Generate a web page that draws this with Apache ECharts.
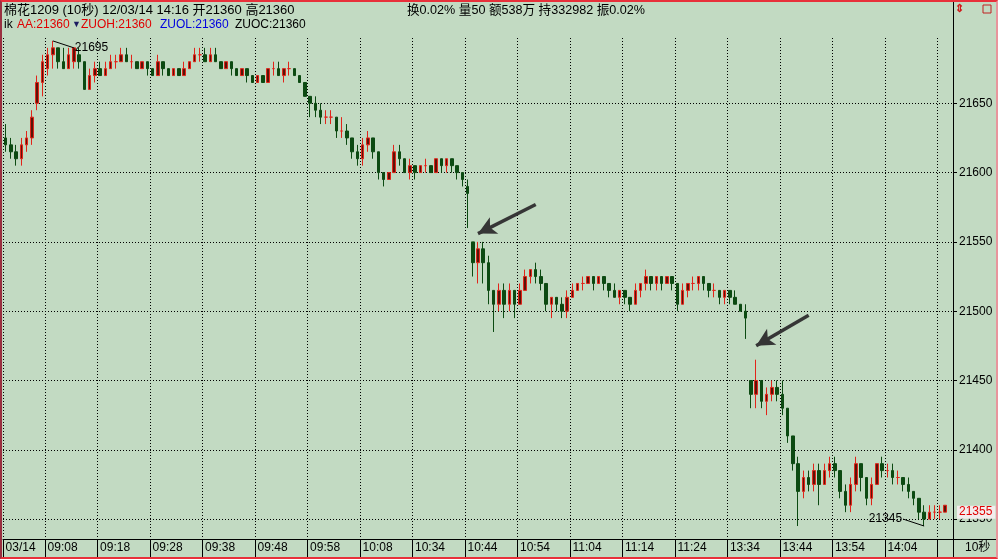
<!DOCTYPE html>
<html><head><meta charset="utf-8">
<script src="https://cdn.jsdelivr.net/npm/echarts@6.0.0/dist/echarts.min.js"></script>
<style>
html,body{margin:0;padding:0;background:#C2DAC2;}
#wrap{position:relative;width:998px;height:559px;overflow:hidden;background:#C2DAC2;}
#chart{position:absolute;left:0;top:0;width:998px;height:559px;}
#frame{position:absolute;left:0;top:0;width:998px;height:559px;box-sizing:border-box;border-top:2px solid #E8303A;border-bottom:2px solid #E8303A;border-left:2px solid #9A3040;border-right:2px solid #E8959C;pointer-events:none;}
</style></head>
<body><div id="wrap"><div id="chart"></div><div id="frame"></div></div>
<script>
// ---- data (10-second bars, resampled ~5px per bar) ----
const opens = [
21625,21620,21615,21610,21620,21625,21650,21665,21675,21685,
21690,21680,21675,21680,21685,21680,21660,21670,21675,21670,
21675,21680,21680,21685,21680,21680,21675,21680,21675,21670,
21680,21675,21670,21675,21670,21675,21680,21685,21685,21680,
21685,21680,21675,21680,21675,21670,21675,21670,21665,21670,
21665,21675,21675,21670,21675,21675,21670,21665,21655,21650,
21645,21640,21640,21640,21630,21630,21625,21615,21610,21620,
21625,21615,21600,21595,21600,21615,21610,21600,21605,21600,
21605,21605,21600,21610,21605,21610,21605,21600,21590,21550,
21535,21545,21535,21515,21505,21515,21505,21515,21505,21515,
21525,21530,21525,21520,21505,21510,21505,21500,21510,21515,
21520,21520,21525,21520,21525,21520,21515,21510,21515,21510,
21505,21515,21520,21525,21520,21525,21520,21525,21520,21505,
21515,21520,21520,21525,21520,21515,21515,21510,21515,21510,
21505,21500,21450,21440,21450,21435,21440,21445,21440,21430,
21410,21390,21370,21380,21375,21385,21375,21385,21390,21385,
21370,21360,21375,21390,21380,21365,21375,21390,21385,21385,
21380,21380,21375,21370,21365,21355,21350,21355,21355,21355];
const closes = [
21620,21615,21610,21620,21625,21640,21665,21680,21685,21690,
21680,21675,21685,21690,21680,21660,21670,21675,21670,21675,
21680,21680,21685,21680,21680,21675,21680,21675,21670,21680,
21675,21670,21675,21670,21675,21680,21685,21685,21680,21685,
21680,21675,21680,21675,21670,21675,21670,21665,21670,21665,
21675,21675,21670,21675,21675,21670,21665,21655,21650,21645,
21640,21640,21640,21630,21630,21625,21615,21610,21620,21625,
21615,21600,21595,21600,21615,21610,21600,21605,21600,21605,
21605,21600,21610,21605,21610,21605,21600,21595,21585,21535,
21545,21535,21515,21505,21515,21505,21515,21505,21515,21525,
21530,21525,21520,21505,21510,21505,21500,21510,21515,21520,
21520,21525,21520,21525,21520,21515,21510,21515,21510,21505,
21515,21520,21525,21520,21525,21520,21525,21520,21505,21515,
21520,21520,21525,21520,21515,21515,21510,21515,21510,21505,
21500,21495,21440,21450,21435,21440,21445,21440,21430,21410,
21390,21370,21380,21375,21385,21375,21385,21390,21385,21370,
21360,21375,21390,21380,21365,21375,21390,21385,21385,21380,
21380,21375,21370,21365,21355,21350,21355,21355,21355,21360];
const highs = [
21635,21625,21620,21625,21630,21645,21670,21685,21690,21695,
21690,21690,21690,21690,21690,21680,21675,21680,21680,21680,
21685,21685,21690,21690,21685,21680,21680,21680,21675,21685,
21680,21675,21675,21675,21680,21680,21690,21690,21690,21690,
21690,21680,21680,21680,21675,21675,21675,21670,21670,21670,
21675,21680,21680,21675,21680,21675,21670,21665,21655,21655,
21650,21645,21645,21640,21640,21635,21625,21620,21625,21630,
21625,21615,21600,21600,21620,21620,21610,21610,21605,21605,
21610,21605,21610,21610,21610,21610,21605,21600,21595,21550,
21550,21550,21540,21515,21520,21520,21520,21515,21520,21530,
21530,21535,21530,21520,21510,21510,21510,21515,21520,21520,
21525,21525,21525,21525,21525,21520,21520,21515,21515,21510,
21520,21520,21530,21525,21525,21525,21525,21525,21520,21520,
21520,21525,21525,21525,21520,21520,21515,21515,21515,21515,
21505,21505,21450,21465,21450,21445,21450,21450,21450,21430,
21410,21395,21385,21385,21390,21390,21390,21395,21395,21385,
21375,21380,21395,21390,21380,21380,21390,21395,21390,21390,
21385,21380,21380,21370,21365,21360,21360,21360,21360,21360];
const lows = [
21615,21610,21605,21605,21615,21620,21645,21655,21670,21675,
21675,21675,21675,21675,21675,21660,21660,21665,21670,21670,
21675,21675,21680,21680,21675,21675,21675,21670,21670,21670,
21670,21670,21670,21670,21670,21675,21680,21680,21680,21680,
21680,21675,21675,21670,21670,21670,21665,21665,21665,21665,
21665,21670,21670,21665,21670,21670,21665,21655,21640,21640,
21635,21635,21635,21625,21625,21620,21610,21605,21605,21615,
21610,21595,21590,21595,21600,21605,21600,21595,21595,21600,
21600,21600,21600,21600,21600,21600,21595,21590,21560,21525,
21520,21520,21505,21485,21500,21495,21500,21495,21505,21515,
21520,21520,21515,21500,21495,21500,21495,21495,21510,21515,
21515,21520,21515,21520,21515,21510,21510,21505,21505,21500,
21505,21510,21515,21515,21515,21515,21520,21515,21500,21505,
21510,21515,21515,21515,21510,21510,21505,21505,21505,21505,
21500,21480,21430,21430,21430,21425,21435,21435,21425,21405,
21385,21345,21365,21370,21370,21360,21375,21380,21380,21365,
21355,21355,21370,21370,21360,21360,21375,21380,21380,21375,
21375,21370,21365,21360,21350,21345,21350,21350,21350,21355];

const slotCount = 181;
const tickIndex  = [0,8,18,28,38,48,58,68,78,88,98,108,118,128,138,148,158,168,178];
const tickLabels = ['03/14','09:08','09:18','09:28','09:38','09:48','09:58','10:08','10:34','10:44','10:54','11:04','11:14','11:24','13:34','13:44','13:54','14:04',''];
const yTicks = [21350,21400,21450,21500,21550,21600,21650];
const lastPrice = 21355;
const arrows = [[[101,21577],[90,21556]],[[153,21497],[143,21475]]];

// ---- build ----
const categories = Array.from({length: slotCount}, (_, i) => String(i));
const labelAt = {};
tickIndex.forEach((idx, k) => { labelAt[idx] = tickLabels[k]; });
const isTick = (i) => Object.prototype.hasOwnProperty.call(labelAt, i);
const candles = opens.map((o, i) => [o, closes[i], lows[i], highs[i]]);

const maxHigh = Math.max(...highs);
const hiIdx = highs.indexOf(maxHigh);
const minLow = Math.min(...lows);
const loIdx = lows.lastIndexOf(minLow);

const FONT = '"Liberation Sans","Noto Sans CJK SC",sans-serif';
const chart = echarts.init(document.getElementById('chart'), null, {renderer: 'canvas'});

const arrowLines = arrows.map(a => [
  {coord: a[0], symbol: 'none', lineStyle: {color: '#363636', width: 3.5, type: 'solid'}, label: {show: false}},
  {coord: a[1], symbol: 'arrow', symbolSize: [14, 18], lineStyle: {color: '#363636', width: 3.5, type: 'solid'}, label: {show: false}}
]);

const option = {
  animation: false,
  backgroundColor: '#C2DAC2',
  textStyle: {fontFamily: FONT},
  grid: {left: 3, right: 45, top: 38, bottom: 20, containLabel: false, outerBoundsMode: 'none'},
  xAxis: {
    type: 'category',
    data: categories,
    boundaryGap: true,
    axisLine: {show: true, lineStyle: {color: '#000', width: 1}},
    axisTick: {show: true, interval: (i) => isTick(i), length: 18, inside: false, lineStyle: {color: '#000', width: 1}},
    axisLabel: {show: true, interval: (i) => isTick(i), formatter: (v, i) => labelAt[i] || '', align: 'left', margin: 3,
      color: '#000', fontSize: 12, fontFamily: FONT},
    splitLine: {show: true, interval: (i) => isTick(i), lineStyle: {color: '#000', width: 1, type: [1, 2]}}
  },
  yAxis: {
    type: 'value',
    position: 'right',
    scale: true,
    min: 21335.64,
    max: 21697.1,
    splitNumber: 7,
    minInterval: 50,
    maxInterval: 50,
    axisLine: {show: true, lineStyle: {color: '#000', width: 1}},
    axisTick: {show: true, length: 4, inside: false, customValues: yTicks, lineStyle: {color: '#000'}},
    axisLabel: {show: true, customValues: yTicks, margin: 6,
      formatter: (v) => (Math.abs(v - Math.round(v / 50) * 50) < 1e-6 ? String(Math.round(v)) : ''),
      color: '#000', fontSize: 12, fontFamily: FONT},
    splitLine: {show: true, lineStyle: {color: '#000', width: 1, type: [1, 2]}}
  },
  series: [{
    type: 'candlestick',
    data: candles,
    barWidth: 3,
    silent: true,
    itemStyle: {color: '#5A1408', color0: '#0C4A12', borderColor: '#E2241A', borderColor0: '#0C4A12', borderWidth: 1},
    markLine: {
      silent: true,
      animation: false,
      symbol: ['none', 'none'],
      precision: 0,
      z: 20,
      emphasis: {disabled: true},
      data: [
        [
          {coord: [hiIdx, maxHigh], lineStyle: {color: '#000', width: 1, type: 'solid'},
           label: {show: true, position: 'end', distance: 1, formatter: String(maxHigh), color: '#000', fontSize: 12, fontFamily: FONT}},
          {coord: [hiIdx + 4, maxHigh - 5]}
        ],
        [
          {coord: [loIdx, minLow], lineStyle: {color: '#000', width: 1, type: 'solid'},
           label: {show: true, position: 'end', distance: 1, formatter: String(minLow), color: '#000', fontSize: 12, fontFamily: FONT}},
          {coord: [loIdx - 4, minLow + 5]}
        ],
        ...arrowLines,
        {yAxis: lastPrice, symbol: 'none', lineStyle: {color: 'rgba(0,0,0,0)', width: 1, type: 'solid'},
         label: {show: true, position: 'end', distance: 4, formatter: String(lastPrice), color: '#E00000',
                 backgroundColor: '#F3ECEC', padding: [1, 3, 0, 2], fontSize: 12, fontFamily: FONT}}
      ]
    }
  }],
  graphic: [
    {type: 'line', shape: {x1: 953.5, y1: 2, x2: 953.5, y2: 557}, style: {stroke: '#000', lineWidth: 1}, silent: true, z: 10},
    {type: 'line', shape: {x1: 953, y1: 539.5, x2: 996, y2: 539.5}, style: {stroke: '#000', lineWidth: 1}, silent: true, z: 10},
    {type: 'text', left: 4, top: 4, style: {text: '棉花1209 (10秒) 12/03/14 14:16 开21360 高21360', fill: '#000', font: '13px ' + FONT}},
    {type: 'text', left: 4, top: 19, style: {text: 'ik', fill: '#000', font: '12px ' + FONT}},
    {type: 'text', left: 17, top: 19, style: {text: 'AA:21360', fill: '#E00000', font: '12px ' + FONT}},
    {type: 'text', left: 72, top: 20, style: {text: '▼', fill: '#1A1A60', font: '9px ' + FONT}},
    {type: 'text', left: 81, top: 19, style: {text: 'ZUOH:21360', fill: '#E00000', font: '12px ' + FONT}},
    {type: 'text', left: 160, top: 19, style: {text: 'ZUOL:21360', fill: '#0000E0', font: '12px ' + FONT}},
    {type: 'text', left: 235, top: 19, style: {text: 'ZUOC:21360', fill: '#000', font: '12px ' + FONT}},
    {type: 'text', left: 407, top: 4, style: {text: '换0.02% 量50 额538万 持332982 振0.02%', fill: '#000', font: '12.6px ' + FONT}},
    {type: 'text', left: 965, top: 542, style: {text: '10秒', fill: '#000', font: '12px ' + FONT}},
    {type: 'text', left: 955, top: 3, style: {text: '⇕', fill: '#D01818', font: 'bold 11px ' + FONT}},
    {type: 'rect', shape: {x: 983, y: 5, width: 8, height: 8}, style: {fill: 'none', stroke: '#C02020', lineWidth: 1}, silent: true}
  ]
};
chart.setOption(option);
</script>
</body></html>
